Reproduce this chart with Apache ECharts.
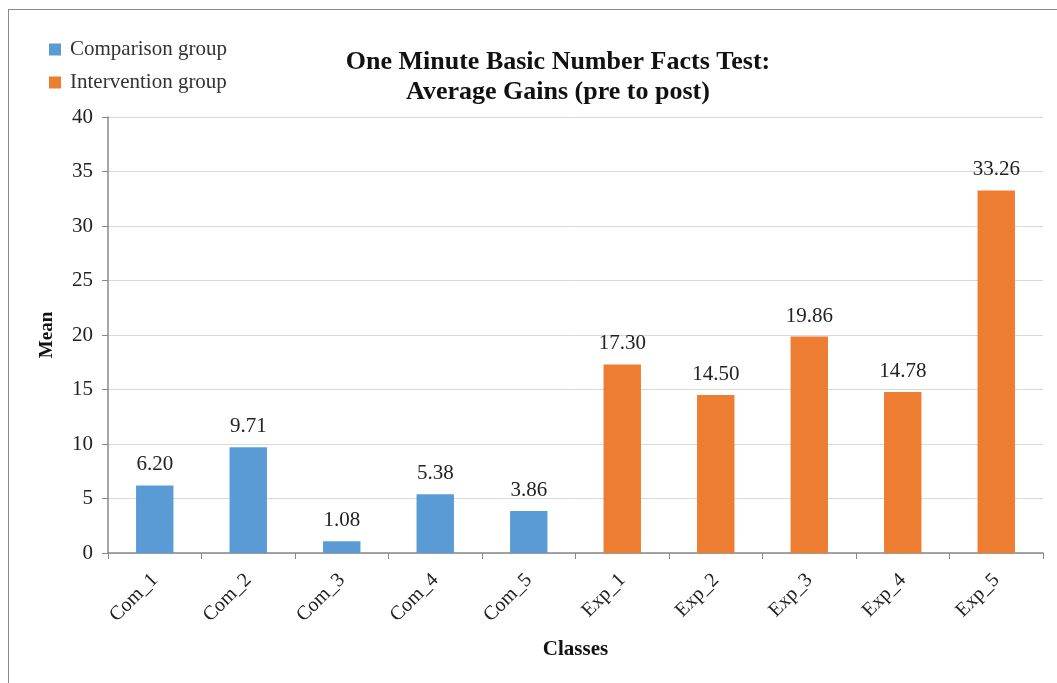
<!DOCTYPE html>
<html><head><meta charset="utf-8">
<script src="https://cdn.jsdelivr.net/npm/echarts@6/dist/echarts.min.js"></script>
<style>html,body{margin:0;padding:0;background:#fff}#frame{position:absolute;left:8px;top:9px;width:1060px;height:690px;border:1.5px solid #8a8a8a;box-sizing:border-box}#c{position:absolute;left:0;top:0;width:1057px;height:683px}</style>
</head><body><div id="frame"></div><div id="c"></div>
<script>
const categories = ['Com_1','Com_2','Com_3','Com_4','Com_5','Exp_1','Exp_2','Exp_3','Exp_4','Exp_5'];
const means = [6.20, 9.71, 1.08, 5.38, 3.86, 17.30, 14.50, 19.86, 14.78, 33.26];
const groups = ['Comparison group','Comparison group','Comparison group','Comparison group','Comparison group','Intervention group','Intervention group','Intervention group','Intervention group','Intervention group'];
const seriesNames = ['Comparison group','Intervention group'];
const colors = ['#5B9BD5','#ED7D31'];
const yTicks = [0,5,10,15,20,25,30,35,40];

const font = '"Liberation Serif","Times New Roman",serif';
const chart = echarts.init(document.getElementById('c'));
chart.setOption({
  animation:false,
  textStyle:{fontFamily:font},
  title:{text:'One Minute Basic Number Facts Test:\nAverage Gains (pre to post)',left:553,textAlign:'center',top:42,
    textStyle:{fontFamily:font,fontSize:26,fontWeight:'bold',color:'#111',lineHeight:30}},
  legend:{orient:'vertical',left:44,top:34,itemWidth:12,itemHeight:12,itemGap:12,icon:'rect',
    textStyle:{fontFamily:font,fontSize:21,color:'#333',padding:[0,0,0,4]},data:seriesNames},
  grid:{left:108,right:14,top:117,bottom:130,containLabel:false},
  xAxis:{type:'category',data:categories,name:'Classes',nameLocation:'middle',nameGap:86,
    nameTextStyle:{fontFamily:font,fontSize:21,fontWeight:'bold',color:'#111'},
    axisLine:{lineStyle:{color:'#888',width:1.5}},axisTick:{show:true,alignWithLabel:false,length:6,lineStyle:{color:'#888'}},
    axisLabel:{rotate:45,fontFamily:font,fontSize:20,color:'#222',margin:24}},
  yAxis:{type:'value',min:0,max:40,interval:5,name:'Mean',nameLocation:'middle',nameGap:51,
    nameTextStyle:{fontFamily:font,fontSize:19,fontWeight:'bold',color:'#111'},
    axisLine:{show:true,lineStyle:{color:'#888',width:1.5}},axisTick:{show:true,length:6,lineStyle:{color:'#888'}},
    axisLabel:{fontFamily:font,fontSize:21,color:'#222',margin:15,formatter:v=>yTicks.includes(v)?String(v):''},
    splitLine:{lineStyle:{color:'#d9d9d9',width:1}}},
  series: seriesNames.map((nm,si)=>({
    name:nm,type:'bar',stack:'all',barWidth:'40%',
    itemStyle:{color:colors[si]},
    label:{show:true,position:'top',distance:10,fontFamily:font,fontSize:21,color:'#222',formatter:p=>p.value.toFixed(2)},
    data: means.map((v,i)=>groups[i]===nm?v:null)
  }))
});
</script></body></html>
